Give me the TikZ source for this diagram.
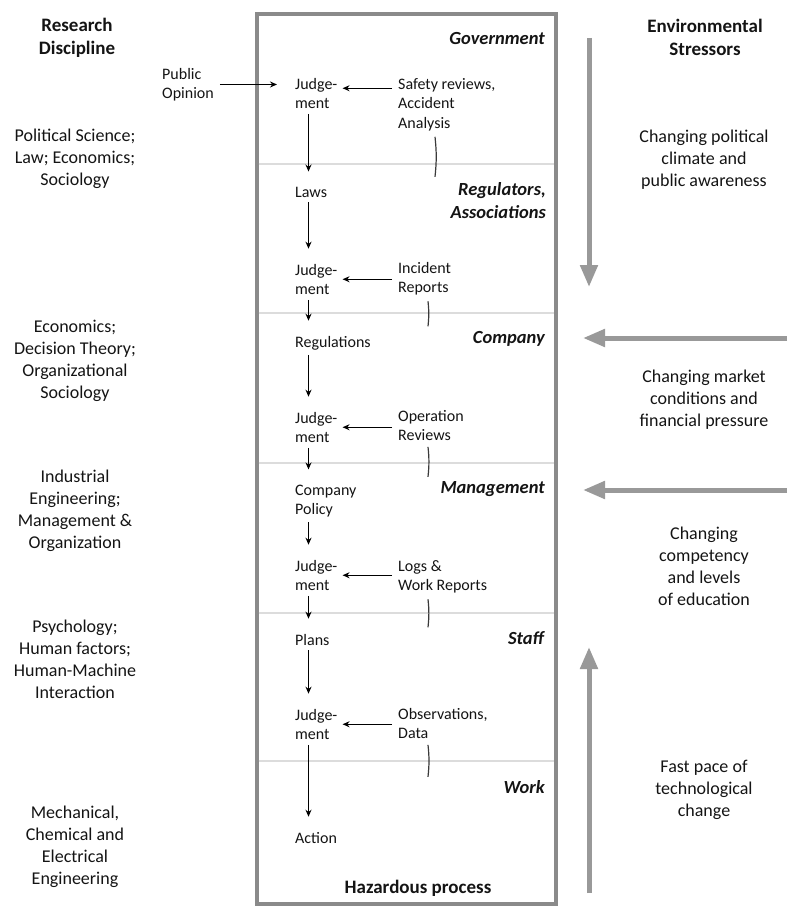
\documentclass[tikz,border=0pt]{standalone}
\usepackage{fontspec}
\setmainfont{Carlito}
\usepackage{xcolor}
\usetikzlibrary{arrows.meta}

\definecolor{framegray}{HTML}{8A8A8A}
\definecolor{stressgray}{HTML}{999999}
\definecolor{linegray}{HTML}{DCDCDC}
\definecolor{tickgray}{HTML}{3A3A3A}

\begin{document}
\begin{tikzpicture}[x=1pt, y=-1pt, text=black!92,
    flow/.style={inner sep=5pt, anchor=base west, align=left, font=\fontsize{16}{19.5}\selectfont},
    source/.style={inner sep=6pt, anchor=base west, align=left, font=\fontsize{16}{19.5}\selectfont},
    layer/.style={inner sep=0pt, anchor=base east, align=right, font=\fontsize{18.5}{23}\selectfont\bfseries\itshape},
    discipline/.style={inner sep=0pt, anchor=base, align=center, font=\fontsize{18}{22}\selectfont},
    heading/.style={inner sep=0pt, anchor=base, align=center, font=\fontsize{19}{23}\selectfont\bfseries},
    stressor/.style={line width=5pt, stressgray, -{Triangle[length=22pt, width=17pt]}},
    feedback/.style={very thick, tickgray},
    >={Stealth[length=7pt, width=6pt]}]
    \useasboundingbox (0,0) rectangle (787,907);

    % Frame of the socio-technical system and its levels
    \draw[framegray, line width=4pt] (256.5,14.5) rectangle (555.5,904);
    \foreach \y in {164,313,463,613,761}
        \draw[linegray, line width=1.5pt] (258.5,\y) -- (553.5,\y);

    % Level names (base = last line)
    \node[layer] (gov) at (545,45) {Government};
    \node[layer] (reg) at (546,218) {Regulators,\\Associations};
    \node[layer] (comp) at (545,343) {Company};
    \node[layer] (mgmt) at (545,493) {Management};
    \node[layer] (staff) at (544,644) {Staff};
    \node[layer] (work) at (545,793) {Work};
    \node[heading] (hazard) at (418,893) {Hazardous process};

    % Chain of judgements down the levels
    \node[flow] (judge1) at (290,108.5) {Judge-\\ment};
    \node[flow] (laws) at (290,197) {Laws};
    \node[flow] (judge2) at (290,294.5) {Judge-\\ment};
    \node[flow] (regs) at (290,347) {Regulations};
    \node[flow] (judge3) at (290,442.5) {Judge-\\ment};
    \node[flow] (policy) at (290,514.5) {Company\\Policy};
    \node[flow] (judge4) at (290,590.5) {Judge-\\ment};
    \node[flow] (plans) at (290,645) {Plans};
    \node[flow] (judge5) at (290,739.5) {Judge-\\ment};
    \node[flow] (action) at (290,843) {Action};

    \foreach \a/\b in {judge1/laws, laws/judge2, judge2/regs, regs/judge3, judge3/policy,
                       policy/judge4, judge4/plans, plans/judge5, judge5/action}
        \draw[->, very thick, shorten >=10pt] ([xshift=18.5pt]\a.south west) -- ([xshift=18.5pt]\b.north west);

    % Information fed back up
    \node[source] (opinion) at (156,98.5) {Public\\Opinion};
    \node[source] (safety) at (392,128) {Safety reviews,\\Accident\\Analysis};
    \node[source] (incident) at (392,292.5) {Incident\\Reports};
    \node[source] (opreview) at (392,440.5) {Operation\\Reviews};
    \node[source] (logs) at (392,590.5) {Logs \&\\Work Reports};
    \node[source] (observ) at (392,738.5) {Observations,\\Data};

    \draw[->, very thick, shorten >=13pt] (opinion.east) -- (opinion.east -| judge1.west);
    \draw[->, very thick] ([yshift=5pt]safety.west |- judge1.east) -- ([yshift=5pt]judge1.east);
    \draw[->, very thick] (incident.west |- judge2.east) -- (judge2.east);
    \draw[->, very thick] (opreview.west |- judge3.east) -- (judge3.east);
    \draw[->, very thick] (logs.west |- judge4.east) -- (judge4.east);
    \draw[->, very thick] (observ.west |- judge5.east) -- (judge5.east);

    \draw[feedback] ([xshift=43pt]safety.south west) to[bend left=6] ++(0,40);
    \draw[feedback] ([xshift=36pt]incident.south west) to[bend left=6] ++(0,25);
    \draw[feedback] ([xshift=36pt]opreview.south west) to[bend left=6] ++(0,30);
    \draw[feedback] ([xshift=36pt]logs.south west) to[bend left=6] ++(0,28);
    \draw[feedback] ([xshift=36pt]observ.south west) to[bend left=6] ++(0,32);

    % Research disciplines
    \node[heading] (rdhead) at (77,55) {Research\\Discipline};
    \node[discipline] (polsci) at (75,185) {Political Science;\\Law; Economics;\\Sociology};
    \node[discipline] (econ) at (75,398) {Economics;\\Decision Theory;\\Organizational\\Sociology};
    \node[discipline] (indeng) at (75,548) {Industrial\\Engineering;\\Management \&\\Organization};
    \node[discipline] (psych) at (75,698) {Psychology;\\Human factors;\\Human-Machine\\Interaction};
    \node[discipline] (mecheng) at (75,884) {Mechanical,\\Chemical and\\Electrical\\Engineering};

    % Environmental stressors
    \node[heading] (eshead) at (705,56) {Environmental\\Stressors};
    \node[discipline] (pressA) at (704,186) {Changing political\\climate and\\public awareness};
    \node[discipline] (pressB) at (704,426) {Changing market\\conditions and\\financial pressure};
    \node[discipline] (pressC) at (704,605) {Changing\\competency\\and levels\\of education};
    \node[discipline] (pressD) at (704,816) {Fast pace of\\technological\\change};

    \coordinate (polstart) at (589,38);
    \coordinate (polend) at (589,287);
    \coordinate (mktstart) at (787,338);
    \coordinate (mktend) at (583,338);
    \coordinate (edustart) at (787,490);
    \coordinate (eduend) at (583,490);
    \coordinate (techstart) at (589,893);
    \coordinate (techend) at (589,647);
    \draw[stressor] (polstart) -- (polend);
    \draw[stressor] (mktstart) -- (mktend);
    \draw[stressor] (edustart) -- (eduend);
    \draw[stressor] (techstart) -- (techend);
\end{tikzpicture}
\end{document}
